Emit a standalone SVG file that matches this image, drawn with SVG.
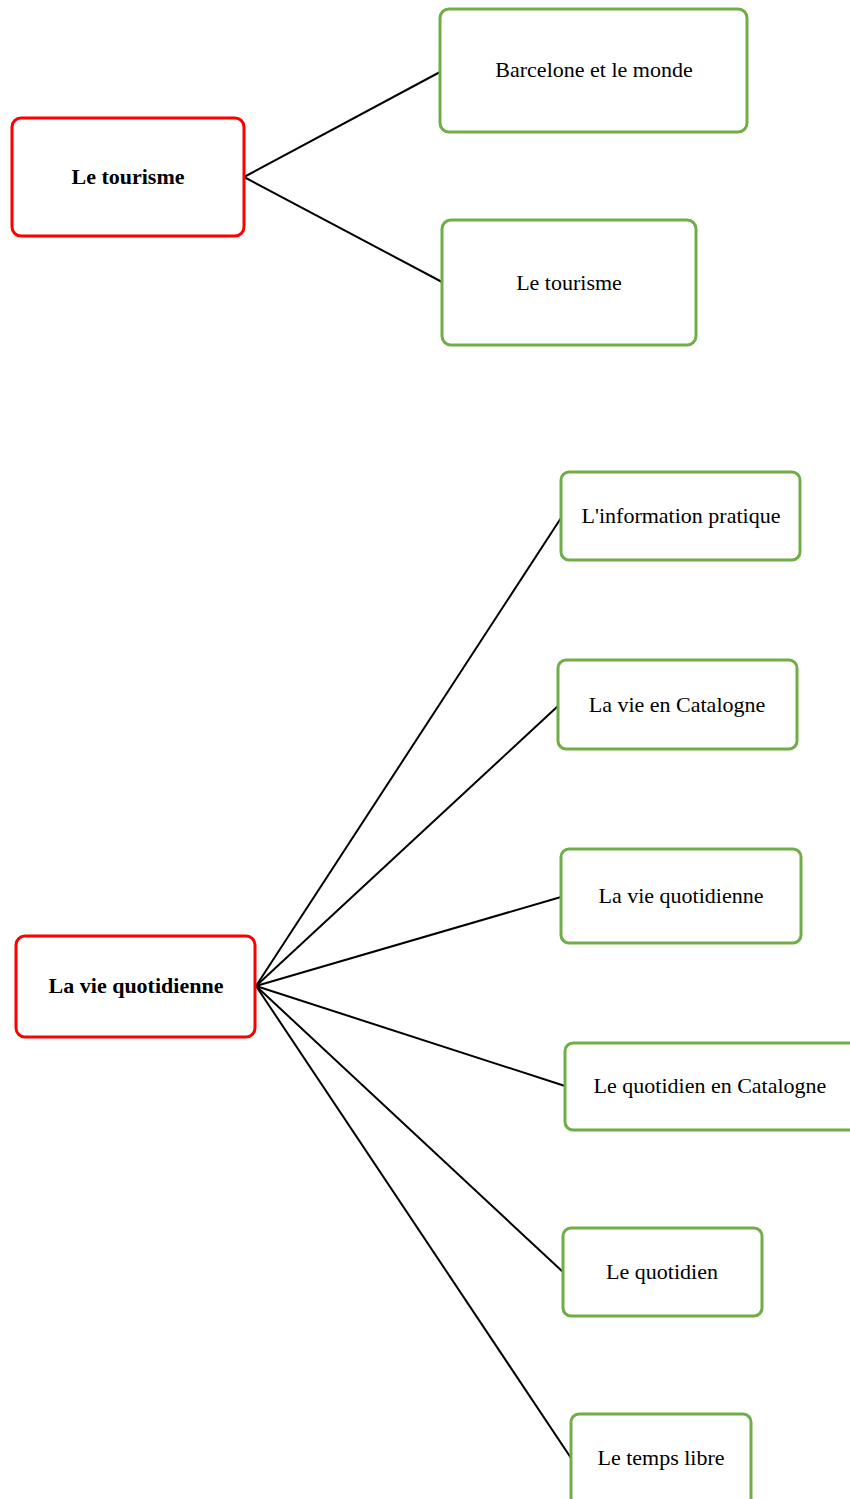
<svg xmlns="http://www.w3.org/2000/svg" width="850" height="1499" viewBox="0 0 850 1499">
<style>
.root{fill:#fff;stroke:#ff0000;stroke-width:3}
.leaf{fill:#fff;stroke:#70ad47;stroke-width:3}
.t{font-family:"Liberation Serif",serif;font-size:22px;fill:#000;text-anchor:middle;dominant-baseline:central}
.b{font-weight:bold}
.c{stroke:#000;stroke-width:2;fill:none}
</style>
<rect width="850" height="1499" fill="#fff"/>
<g id="connectors">
<line class="c" x1="244" y1="177" x2="440" y2="72"/>
<line class="c" x1="244" y1="177" x2="442" y2="282"/>
<line class="c" x1="256" y1="986" x2="561" y2="518"/>
<line class="c" x1="256" y1="986" x2="558" y2="706"/>
<line class="c" x1="256" y1="986" x2="561" y2="897"/>
<line class="c" x1="256" y1="986" x2="565" y2="1086"/>
<line class="c" x1="256" y1="986" x2="563" y2="1272"/>
<line class="c" x1="256" y1="986" x2="571" y2="1458"/>
</g>
<g id="n-tourisme-root">
<rect class="root" x="12" y="118" width="232" height="118" rx="9"/>
<text class="t b" x="128" y="176">Le tourisme</text>
</g>
<g id="n-barcelone">
<rect class="leaf" x="440" y="9" width="307" height="123" rx="9"/>
<text class="t" x="594" y="69">Barcelone et le monde</text>
</g>
<g id="n-tourisme">
<rect class="leaf" x="442" y="220" width="254" height="125" rx="9"/>
<text class="t" x="569" y="282">Le tourisme</text>
</g>
<g id="n-vie-root">
<rect class="root" x="16" y="936" width="239" height="101" rx="9"/>
<text class="t b" x="136" y="985">La vie quotidienne</text>
</g>
<g id="n-info">
<rect class="leaf" x="561" y="472" width="239" height="88" rx="8"/>
<text class="t" x="681" y="515">L'information pratique</text>
</g>
<g id="n-catalogne">
<rect class="leaf" x="558" y="660" width="239" height="89" rx="8"/>
<text class="t" x="677" y="704">La vie en Catalogne</text>
</g>
<g id="n-vie">
<rect class="leaf" x="561" y="849" width="240" height="94" rx="8"/>
<text class="t" x="681" y="895">La vie quotidienne</text>
</g>
<g id="n-quotidien-cat">
<rect class="leaf" x="565" y="1043" width="295" height="87" rx="8"/>
<text class="t" x="710" y="1085">Le quotidien en Catalogne</text>
</g>
<g id="n-quotidien">
<rect class="leaf" x="563" y="1228" width="199" height="88" rx="8"/>
<text class="t" x="662" y="1271">Le quotidien</text>
</g>
<g id="n-temps">
<rect class="leaf" x="571" y="1414" width="180" height="100" rx="8"/>
<text class="t" x="661" y="1457">Le temps libre</text>
</g>
</svg>
